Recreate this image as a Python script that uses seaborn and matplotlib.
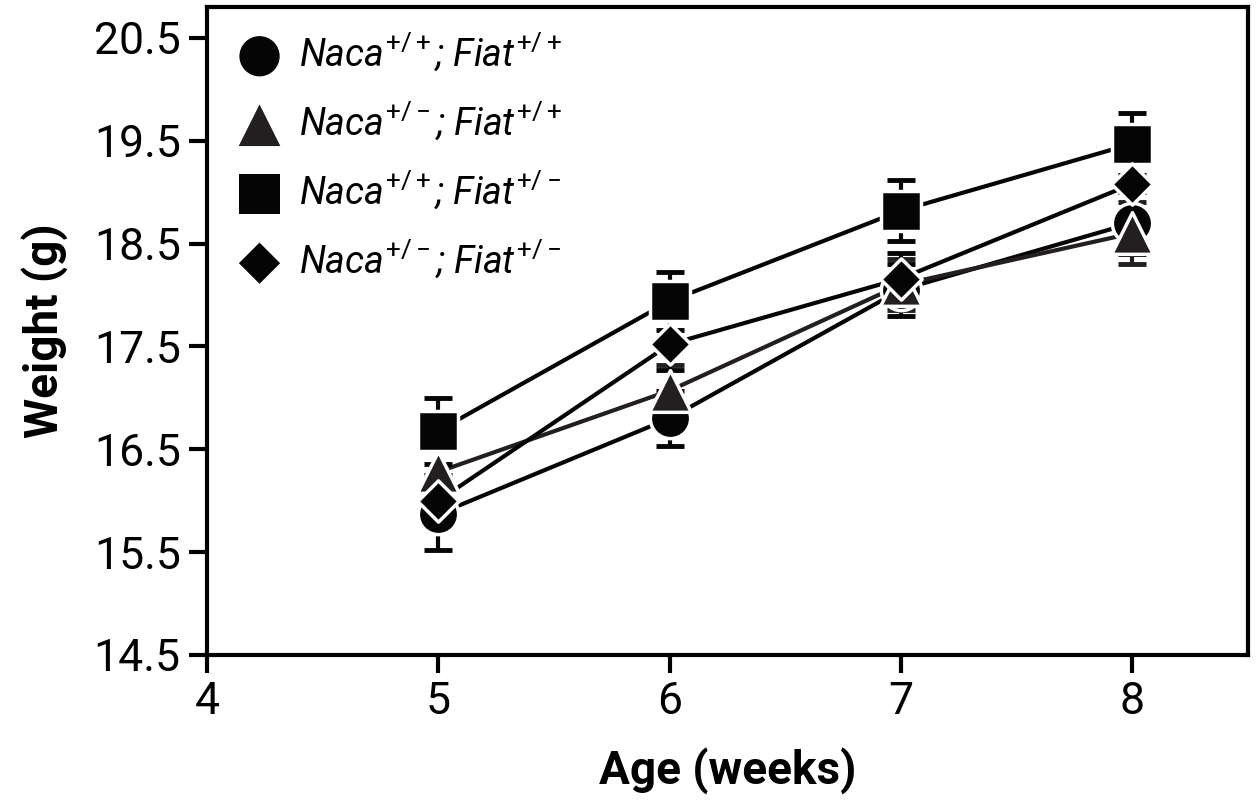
import numpy as np
import pandas as pd
import matplotlib
matplotlib.use("Agg")
import matplotlib.pyplot as plt
import seaborn as sns

weeks = [5, 6, 7, 8]
genotypes = ["wt_wt", "het_wt", "wt_het", "het_het"]
labels = [r"$Naca^{+/+}$; $Fiat^{+/+}$",
          r"$Naca^{+/-}$; $Fiat^{+/+}$",
          r"$Naca^{+/+}$; $Fiat^{+/-}$",
          r"$Naca^{+/-}$; $Fiat^{+/-}$"]
mean_wt_wt = [15.87, 16.80, 18.05, 18.70]
se_wt_wt = [0.35, 0.27, 0.25, 0.30]
mean_het_wt = [16.28, 17.07, 18.10, 18.60]
se_het_wt = [0.30, 0.25, 0.25, 0.30]
mean_wt_het = [16.68, 17.94, 18.82, 19.47]
se_wt_het = [0.32, 0.28, 0.30, 0.30]
mean_het_het = [16.00, 17.52, 18.16, 19.08]
se_het_het = [0.25, 0.25, 0.25, 0.25]

means = [mean_wt_wt, mean_het_wt, mean_wt_het, mean_het_het]
ses = [se_wt_wt, se_het_wt, se_wt_het, se_het_het]
markers = ["o", "^", "s", "D"]
msizes = [29, 30, 29, 21]
colors = ["#050505", "#231f20", "#050505", "#050505"]

rows = []
for g, lab, m, s in zip(genotypes, labels, means, ses):
    for w, v, e in zip(weeks, m, s):
        rows.append({"geno": g, "label": lab, "week": w, "weight": v, "se": e})
df = pd.DataFrame(rows)

sns.set_style("ticks")
plt.rcParams['font.family'] = ['Roboto', 'DejaVu Sans']
plt.rcParams['mathtext.fontset'] = 'custom'
plt.rcParams['mathtext.it'] = 'Roboto:italic'
plt.rcParams['mathtext.rm'] = 'Roboto'
plt.rcParams['text.color'] = 'black'
plt.rcParams['axes.labelcolor'] = 'black'
plt.rcParams['xtick.color'] = 'black'
plt.rcParams['ytick.color'] = 'black'

fig = plt.figure(figsize=(12.57, 8.11), dpi=100)
ax = fig.add_axes([0.1647, 0.1924, 0.8281, 0.799])

for g, c in zip(genotypes, colors):
    d = df[df.geno == g]
    sns.lineplot(data=d, x="week", y="weight", color=c, lw=3, ax=ax,
                 zorder=2, legend=False)

for g, c in zip(genotypes, colors):
    d = df[df.geno == g]
    ax.errorbar(d.week, d.weight, yerr=d.se, fmt="none", ecolor=c,
                elinewidth=3, capsize=10, capthick=3.5, zorder=3)

for i, (g, lab, mk, ms, c) in enumerate(zip(genotypes, labels, markers, msizes, colors)):
    d = df[df.geno == g]
    sns.scatterplot(data=d, x="week", y="weight", marker=mk, s=ms ** 2,
                    color=c, edgecolor="white", linewidth=2.5, ax=ax,
                    zorder=4 + i, label=lab)

ax.set_xlim(4, 8.5)
ax.set_ylim(14.5, 20.8)
ax.set_xticks([4, 5, 6, 7, 8])
ax.set_yticks([14.5, 15.5, 16.5, 17.5, 18.5, 19.5, 20.5])
ax.set_yticklabels(["14.5", "15.5", "16.5", "17.5", "18.5", "19.5", "20.5"])
ax.tick_params(axis="both", length=13, width=3, labelsize=32, pad=6, color="black")
for sp in ax.spines.values():
    sp.set_linewidth(3)
    sp.set_color("black")
ax.set_xlabel("Age (weeks)", fontsize=33, fontweight="bold", labelpad=18)
ax.set_ylabel("Weight (g)", fontsize=33, fontweight="bold", labelpad=18)

leg = ax.legend(loc="upper left", frameon=False,
                prop={"size": 27, "style": "italic"},
                handletextpad=0.3, labelspacing=0.7, borderaxespad=0.25,
                handlelength=1.5)
for h in leg.legend_handles:
    h.set_edgecolor("none")

fig.savefig("out.png", dpi=100)
